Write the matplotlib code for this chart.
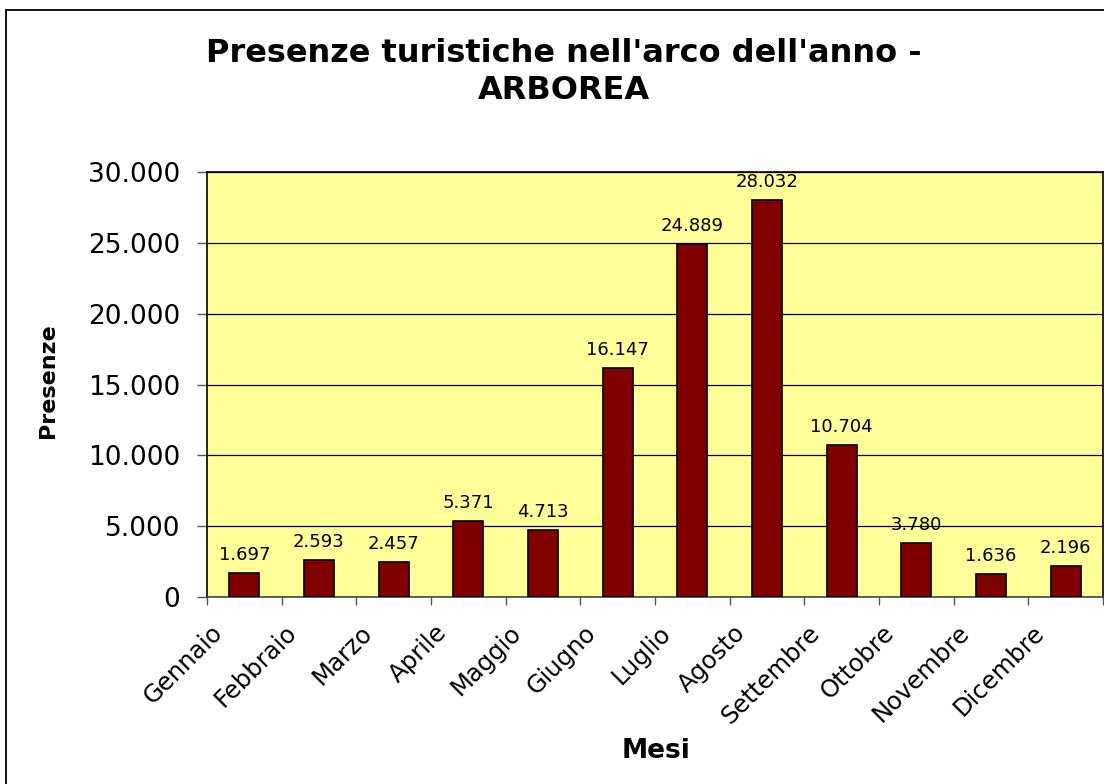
import matplotlib
matplotlib.use("Agg")
import matplotlib.pyplot as plt
from matplotlib.patches import Rectangle
from matplotlib.ticker import FixedLocator, FuncFormatter
from matplotlib.transforms import ScaledTranslation
import numpy as np

months = ["Gennaio", "Febbraio", "Marzo", "Aprile", "Maggio", "Giugno",
          "Luglio", "Agosto", "Settembre", "Ottobre", "Novembre", "Dicembre"]
presenze = [1697, 2593, 2457, 5371, 4713, 16147, 24889, 28032, 10704, 3780, 1636, 2196]
yticks = [0, 5000, 10000, 15000, 20000, 25000, 30000]

def it_fmt(v):
    return f"{int(round(v)):,}".replace(",", ".")

plt.rcParams['font.family'] = ['DejaVu Sans']

W, H = 1104, 784
fig = plt.figure(figsize=(W / 100, H / 100), dpi=100)
fig.patch.set_facecolor("white")

# outer chart-area frame (extends beyond the image at right/bottom)
fig.patches.append(Rectangle((6 / W, -0.05), 1.2, 1 - 10 / H + 0.05,
                             transform=fig.transFigure, fill=False,
                             edgecolor="black", linewidth=1.3, zorder=0))

ax = fig.add_axes([207 / W, 1 - 597 / H, 896 / W, 425 / H])
ax.set_facecolor("#FFFF99")

x = np.arange(len(months))
bars = ax.bar(x, presenze, width=0.40, color="#800000", edgecolor="black",
              linewidth=1.2, zorder=3)

ax.set_xlim(-0.5, len(months) - 0.5)
ax.set_ylim(0, 30000)

ax.yaxis.set_major_locator(FixedLocator(yticks))
ax.yaxis.set_major_formatter(FuncFormatter(lambda v, p: it_fmt(v)))
ax.grid(axis="y", color="black", linewidth=0.9, zorder=1)
ax.tick_params(axis="y", direction="out", length=7.2, width=1, color="#555555",
               labelsize=19, pad=12)

# category labels at centers, tick marks at category boundaries
ax.set_xticks(x)
ax.set_xticklabels(months, rotation=45, ha="right", va="top",
                   rotation_mode="anchor", fontsize=17.5)
ax.tick_params(axis="x", which="major", length=0, pad=17)
ax.set_xticks(np.arange(-0.5, len(months) - 0.4, 1.0), minor=True)
ax.tick_params(axis="x", which="minor", direction="out", length=6, width=1,
               color="#555555")
shift = ScaledTranslation(-34 / 100, 0, fig.dpi_scale_trans)
for lbl in ax.get_xticklabels():
    lbl.set_transform(lbl.get_transform() + shift)

for s in ax.spines.values():
    s.set_color("black")
    s.set_linewidth(1.2)
ax.spines["bottom"].set_color("#444444")

for xi, v in zip(x, presenze):
    ax.annotate(it_fmt(v), (xi, v), xytext=(0, 9.4), textcoords="offset points",
                ha="center", va="baseline", fontsize=13, zorder=4)

ax.set_ylabel("Presenze", fontsize=16, fontweight="bold")
ax.yaxis.label.set_va("center")
ax.yaxis.set_label_coords((48 - 207) / 896, (597 - 381) / 425)

ax.set_xlabel("Mesi", fontsize=19, fontweight="bold")
ax.xaxis.label.set_va("center")
ax.xaxis.set_label_coords((656 - 207) / 896, (597 - 751) / 425)

fig.text(564 / W, 1 - 38 / H, "Presenze turistiche nell'arco dell'anno -\nARBOREA",
         ha="center", va="top", fontsize=23, fontweight="bold", linespacing=1.25)

fig.savefig("out.png", dpi=100)
